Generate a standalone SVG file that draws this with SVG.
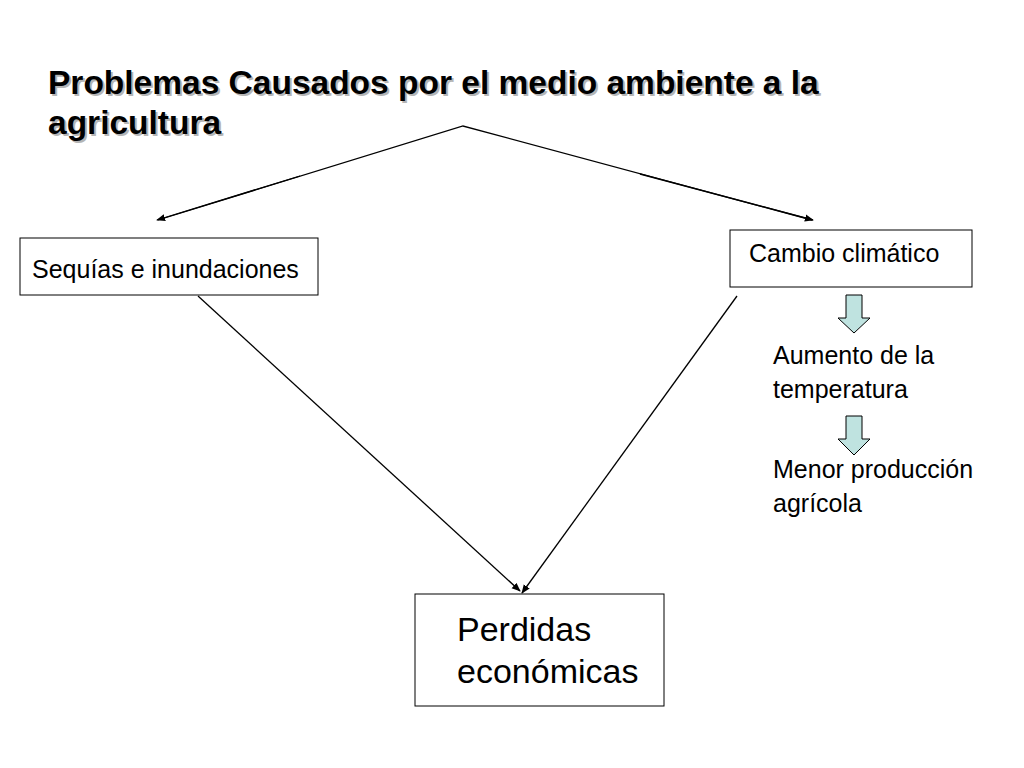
<svg xmlns="http://www.w3.org/2000/svg" width="1024" height="768" viewBox="0 0 1024 768">
<style>
text{font-family:"Liberation Sans",Arial,sans-serif;fill:#000}
.box{fill:#fff;stroke:#000;stroke-width:1}
.ln{stroke:#000;stroke-width:1.3;fill:none;marker-end:url(#ah)}
.blk{fill:#bfe3e0;stroke:#000;stroke-width:1}
.t{font-size:25px}
</style>
<defs>
<marker id="ah" viewBox="0 0 10 10" refX="9" refY="5" markerWidth="9" markerHeight="9" orient="auto" markerUnits="userSpaceOnUse"><path d="M0,1 L10,5 L0,9 z" fill="#000"/></marker>
</defs>
<rect width="1024" height="768" fill="#fff"/>
<g id="title" font-size="33.5" font-weight="bold">
<text x="50" y="96" style="fill:#b5b5b5">Problemas Causados por el medio ambiente a la</text>
<text x="50" y="136" style="fill:#b5b5b5">agricultura</text>
<text x="48" y="94">Problemas Causados por el medio ambiente a la</text>
<text x="48" y="134">agricultura</text>
</g>
<g id="connectors">
<polyline points="158,220 463,126 812,220" stroke="#000" stroke-width="1.3" fill="none"/>
<line class="ln" x1="300" y1="176" x2="157" y2="220"/>
<line class="ln" x1="640" y1="174" x2="813" y2="220"/>
<line class="ln" x1="198" y1="296" x2="520" y2="591"/>
<line class="ln" x1="737" y1="296" x2="522" y2="593"/>
<path class="blk" d="M846,295 H862 V318 H870 L854,333 L838,318 H846 Z"/>
<path class="blk" d="M846,416 H862 V439 H870 L854,455 L838,439 H846 Z"/>
</g>
<g id="sequias"><rect class="box" x="20" y="238" width="298" height="57"/><text class="t" x="32" y="278">Sequías e inundaciones</text></g>
<g id="cambio"><rect class="box" x="730" y="230" width="242" height="57"/><text class="t" x="749" y="262">Cambio climático</text></g>
<g id="aumento"><text class="t" x="773" y="364">Aumento de la</text><text class="t" x="773" y="398">temperatura</text></g>
<g id="menor"><text class="t" x="773" y="478">Menor producción</text><text class="t" x="773" y="512">agrícola</text></g>
<g id="perdidas"><rect class="box" x="415" y="594" width="249" height="112"/><text x="457" y="641" font-size="34">Perdidas</text><text x="457" y="683" font-size="34">económicas</text></g>
</svg>
